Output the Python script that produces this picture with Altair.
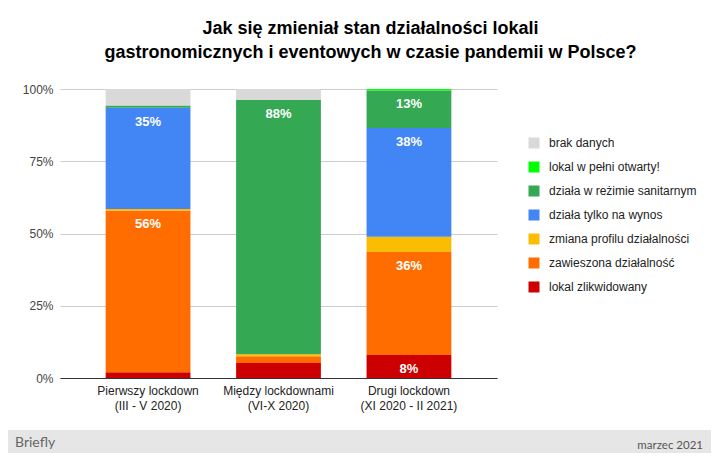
import altair as alt
import pandas as pd

periods = [
    "Pierwszy lockdown|(III - V 2020)",
    "Między lockdownami|(VI-X 2020)",
    "Drugi lockdown|(XI 2020 - II 2021)",
]
# stack order, bottom -> top
statuses = [
    "lokal zlikwidowany",
    "zawieszona działalność",
    "zmiana profilu działalności",
    "działa tylko na wynos",
    "działa w reżimie sanitarnym",
    "lokal w pełni otwarty!",
    "brak danych",
]
colors = ["#cc0000", "#ff6d01", "#fbbc04", "#4285f4", "#34a853", "#00ff00", "#d9d9d9"]

# shares (%) per period, same order as statuses
first_lockdown = [2.0, 56.0, 0.5, 35.0, 0.8, 0.0, 5.7]
between = [5.2, 2.3, 0.7, 0.0, 88.0, 0.0, 3.8]
second_lockdown = [8.0, 35.6, 5.3, 37.6, 13.0, 0.5, 0.0]

rows = []
for period, vals in zip(periods, [first_lockdown, between, second_lockdown]):
    for i, (status, v) in enumerate(zip(statuses, vals)):
        rows.append({"period": period, "status": status, "ord": i, "value": v})
df = pd.DataFrame(rows)

FONT = "Liberation Sans"

base = alt.Chart(df).transform_stack(
    stack="value", groupby=["period"], sort=[alt.SortField("ord")], as_=["y0", "y1"]
).transform_calculate(
    y0p="datum.y0 / 100", y1p="datum.y1 / 100",
    label="datum.value >= 7 ? format(datum.value, '.0f') + '%' : ''",
)

x_enc = alt.X(
    "period:N", sort=periods, title=None,
    scale=alt.Scale(paddingInner=0.35, paddingOuter=0.35),
    axis=alt.Axis(
        labelAngle=0, labelExpr="split(datum.label, '|')", ticks=False, grid=False,
        domainColor="#333333", labelColor="#222222", labelFontSize=12,
        labelFont=FONT, labelPadding=7, labelLineHeight=15,
    ),
)

bars = base.mark_bar().encode(
    x=x_enc,
    y=alt.Y(
        "y0p:Q", title=None, scale=alt.Scale(domain=[0, 1], nice=False),
        axis=alt.Axis(
            values=[0, 0.25, 0.5, 0.75, 1], format=".0%", ticks=False, domain=False,
            labelColor="#444444", labelFontSize=12, labelFont=FONT, labelPadding=7,
            gridColor="#cccccc",
        ),
    ),
    y2="y1p:Q",
    color=alt.Color(
        "status:N",
        scale=alt.Scale(domain=statuses[::-1], range=colors[::-1]),
        legend=alt.Legend(
            title=None, orient="none", legendX=468, legendY=48, symbolType="square",
            symbolSize=121, symbolStrokeWidth=0, labelFontSize=12, labelFont=FONT,
            labelColor="#222222", rowPadding=12, labelOffset=9, labelLimit=300,
        ),
    ),
    order=alt.Order("ord:Q"),
)

labels = base.mark_text(
    baseline="middle", dy=14, color="white", fontWeight="bold", fontSize=13, font=FONT
).encode(x=alt.X("period:N", sort=periods), y="y1p:Q", text="label:N")

footer_df = pd.DataFrame({"a": [0]})
footer_bg = alt.Chart(footer_df).mark_rect(color="#e6e6e6").encode(
    x=alt.value(-52), x2=alt.value(651), y=alt.value(341), y2=alt.value(364)
)
footer_left = alt.Chart(footer_df).mark_text(
    text="Briefly", align="left", baseline="middle", font="Lato", fontSize=14, color="#666666"
).encode(x=alt.value(-45), y=alt.value(354))
footer_right = alt.Chart(footer_df).mark_text(
    text="marzec 2021", align="right", baseline="middle", font="Lato", fontSize=11.5, color="#555555"
).encode(x=alt.value(643), y=alt.value(357))

chart = alt.layer(bars, labels, footer_bg, footer_left, footer_right).properties(
    width=437, height=289,
    background="white",
    autosize=alt.AutoSizeParams(type="none"),
    padding={"left": 52, "top": 81, "right": 214, "bottom": 75},
    title=alt.Title(
        ["Jak się zmieniał stan działalności lokali",
         "gastronomicznych i eventowych w czasie pandemii w Polsce?"],
        anchor="middle", dx=92, fontSize=18, font=FONT, fontWeight="bold",
        color="#000000", lineHeight=24, offset=21,
    ),
).configure_view(strokeWidth=0)

chart.save("out.html", embed_options={"renderer": "svg", "actions": False})
